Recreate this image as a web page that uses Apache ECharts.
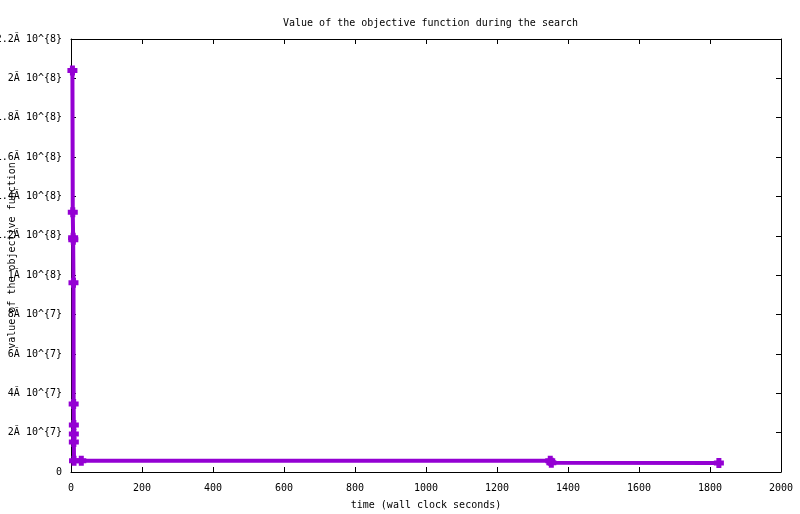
<!DOCTYPE html>
<html>
<head>
<meta charset="utf-8">
<script src="https://cdn.jsdelivr.net/npm/echarts@6/dist/echarts.min.js"></script>
<style>
    html, body { margin: 0; padding: 0; background: #fff; }
    #chart { width: 800px; height: 514px; }
</style>
</head>
<body>
<div id="chart"></div>
<script>
// search time (s) and objective value at each improvement
var times = [4, 5, 6, 6.5, 7, 7.5, 8, 8, 8, 8.5, 29, 1350, 1353, 1825];
var values = [2.04e8, 1.32e8, 1.19e8, 1.18e8, 9.62e7, 3.45e7, 2.39e7, 1.93e7, 1.52e7, 5.75e6, 5.75e6, 5.75e6, 4.7e6, 4.6e6];

// y tick labels as gnuplot printed them (garbled multiplication sign)
var yTickLabels = ['0', '2Ă 10^{7}', '4Ă 10^{7}', '6Ă 10^{7}', '8Ă 10^{7}', '1Ă 10^{8}',
    '1.2Ă 10^{8}', '1.4Ă 10^{8}', '1.6Ă 10^{8}', '1.8Ă 10^{8}', '2Ă 10^{8}', '2.2Ă 10^{8}'];

var font = 'DejaVu Sans Mono';
var plus = 'path://M2.5,0h5v2.5h2.5v5h-2.5v2.5h-5v-2.5h-2.5v-5h2.5z';

var points = times.map(function (t, i) {
    return [t, values[i]];
});

var myChart = echarts.init(document.getElementById('chart'), null, {renderer: 'canvas'});

var tickStyle = {
    inside: true,
    length: 5,
    lineStyle: {color: '#000', width: 1}
};
var lineStyle = {show: true, onZero: false, lineStyle: {color: '#000', width: 1}};

var option = {
    animation: false,
    backgroundColor: '#fff',
    title: {
        text: 'Value of the objective function during the search',
        left: 278,
        top: 13,
        textStyle: {fontFamily: font, fontSize: 10, fontWeight: 'normal', color: '#000'}
    },
    grid: {left: 71, right: 19, top: 39, bottom: 42, containLabel: false, outerBoundsMode: 'none'},
    xAxis: [{
            type: 'value',
            min: 0,
            max: 2000,
            interval: 200,
            name: 'time (wall clock seconds)',
            nameLocation: 'middle',
            nameGap: 28,
            nameMoveOverlap: false,
            nameTextStyle: {fontFamily: font, fontSize: 10, color: '#000'},
            axisLine: lineStyle,
            axisTick: tickStyle,
            axisLabel: {
                fontFamily: font, fontSize: 10, color: '#000', margin: 11,
                formatter: function (v) {
                    return String(v);
                }
            },
            splitLine: {show: false}
        }, {
            type: 'value',
            position: 'top',
            min: 0,
            max: 2000,
            interval: 200,
            axisLine: lineStyle,
            axisTick: tickStyle,
            axisLabel: {show: false},
            splitLine: {show: false}
        }],
    yAxis: [{
            type: 'value',
            min: 0,
            max: 2.2e8,
            interval: 2e7,
            name: 'value of the objective function',
            nameLocation: 'middle',
            nameGap: 54,
            nameMoveOverlap: false,
            nameTextStyle: {fontFamily: font, fontSize: 10, color: '#000'},
            axisLine: lineStyle,
            axisTick: tickStyle,
            axisLabel: {
                fontFamily: font,
                fontSize: 10,
                color: '#000',
                margin: 9,
                formatter: function (v) {
                    return yTickLabels[Math.round(v / 2e7)];
                }
            },
            splitLine: {show: false}
        }, {
            type: 'value',
            position: 'right',
            min: 0,
            max: 2.2e8,
            interval: 2e7,
            axisLine: lineStyle,
            axisTick: tickStyle,
            axisLabel: {show: false},
            splitLine: {show: false}
        }],
    series: [{
            type: 'line',
            data: points,
            xAxisIndex: 0,
            yAxisIndex: 0,
            symbol: plus,
            symbolSize: 10,
            showAllSymbol: true,
            lineStyle: {color: '#9400d3', width: 4},
            itemStyle: {color: '#9400d3'}
        }]
};

myChart.setOption(option);
</script>
</body>
</html>
